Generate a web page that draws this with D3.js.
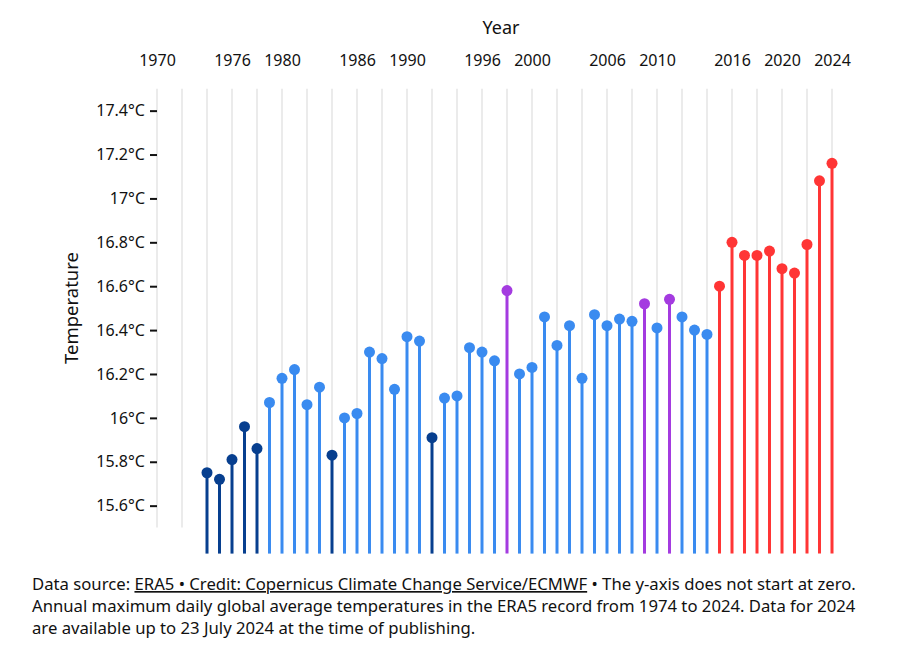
<!DOCTYPE html>
<html>
<head>
<meta charset="utf-8">
<script src="https://cdn.jsdelivr.net/npm/d3@7"></script>
<style>
  html, body { margin: 0; padding: 0; background: #fff; }
  svg { display: block; font-family: "Noto Sans", "Open Sans", sans-serif; }
</style>
</head>
<body>
<svg id="chart" width="915" height="670"></svg>
<script>
const years = d3.range(1974, 2025);
const temps = [
  15.75, 15.72, 15.81, 15.96, 15.86, 16.07, 16.18, 16.22, 16.06, 16.14,
  15.83, 16.00, 16.02, 16.30, 16.27, 16.13, 16.37, 16.35, 15.91, 16.09,
  16.10, 16.32, 16.30, 16.26, 16.58, 16.20, 16.23, 16.46, 16.33, 16.42,
  16.18, 16.47, 16.42, 16.45, 16.44, 16.52, 16.41, 16.54, 16.46, 16.40,
  16.38, 16.60, 16.80, 16.74, 16.74, 16.76, 16.68, 16.66, 16.79, 17.08,
  17.16
];
// colour group per year: d = dark blue, b = blue, p = purple, r = red
const groups = [
  "d","d","d","d","d","b","b","b","b","b",
  "d","b","b","b","b","b","b","b","d","b",
  "b","b","b","b","p","b","b","b","b","b",
  "b","b","b","b","b","p","b","p","b","b",
  "b","r","r","r","r","r","r","r","r","r",
  "r"
];
const groupColors = { d: "#073f8f", b: "#3a8bf0", p: "#a43be0", r: "#ff3535" };
const topTicks = [1970, 1976, 1980, 1986, 1990, 1996, 2000, 2006, 2010, 2016, 2020, 2024];
const yTicks = [15.6, 15.8, 16.0, 16.2, 16.4, 16.6, 16.8, 17.0, 17.2, 17.4];
const gridYears = d3.range(1970, 2025, 2);

const svg = d3.select("#chart");
const x = d3.scaleLinear().domain([1970, 2024]).range([157, 832]);
const y = d3.scaleLinear().domain([15.5, 17.5]).range([527.6, 88.7]);
const stemBottom = y.range()[0] + 26;

// vertical grid
svg.append("g").selectAll("line").data(gridYears).join("line")
  .attr("x1", d => x(d)).attr("x2", d => x(d))
  .attr("y1", y(17.5)).attr("y2", y(15.5))
  .attr("stroke", "#ebebeb").attr("stroke-width", 2);

// y axis
const yAxis = svg.append("g").attr("transform", `translate(${x(1970)},0)`)
  .call(d3.axisLeft(y).tickValues(yTicks).tickSize(7).tickPadding(5)
    .tickFormat(d => d3.format("~f")(+d.toFixed(1)) + "°C"));
yAxis.select(".domain").remove();
yAxis.selectAll(".tick line").attr("stroke", "#111").attr("stroke-width", 2);
yAxis.selectAll(".tick text").attr("font-size", 16).attr("fill", "#111")
  .attr("font-family", "Noto Sans, sans-serif");

// top axis
const xAxis = svg.append("g").attr("transform", "translate(0,71)")
  .call(d3.axisTop(x).tickValues(topTicks).tickSize(0).tickPadding(5).tickFormat(d3.format("d")));
xAxis.select(".domain").remove();
xAxis.selectAll(".tick text").attr("font-size", 16).attr("fill", "#111")
  .attr("font-family", "Noto Sans, sans-serif");

// axis titles
svg.append("text").attr("x", 501).attr("y", 34).attr("text-anchor", "middle")
  .attr("font-size", 18).attr("fill", "#111").text("Year");
svg.append("text").attr("transform", "translate(78,308) rotate(-90)")
  .attr("text-anchor", "middle").attr("font-size", 18.5).attr("fill", "#111").text("Temperature");

// lollipops
const data = years.map((yr, i) => ({ yr, t: temps[i], g: groups[i] }));
svg.append("g").selectAll("line").data(data).join("line")
  .attr("x1", d => x(d.yr)).attr("x2", d => x(d.yr))
  .attr("y1", d => y(d.t)).attr("y2", stemBottom)
  .attr("stroke", d => groupColors[d.g]).attr("stroke-width", 3);
svg.append("g").selectAll("circle").data(data).join("circle")
  .attr("cx", d => x(d.yr)).attr("cy", d => y(d.t)).attr("r", 5.5)
  .attr("fill", d => groupColors[d.g]);

// caption
const cap = svg.append("g").attr("font-size", 16.7).attr("fill", "#111");
const l1 = cap.append("text").attr("x", 32).attr("y", 590);
l1.append("tspan").text("Data source: ");
l1.append("tspan").attr("text-decoration", "underline").text("ERA5 • Credit: Copernicus Climate Change Service/ECMWF");
l1.append("tspan").text(" • The y-axis does not start at zero.");
cap.append("text").attr("x", 32).attr("y", 612)
  .text("Annual maximum daily global average temperatures in the ERA5 record from 1974 to 2024. Data for 2024");
cap.append("text").attr("x", 32).attr("y", 634)
  .text("are available up to 23 July 2024 at the time of publishing.");
</script>
</body>
</html>
